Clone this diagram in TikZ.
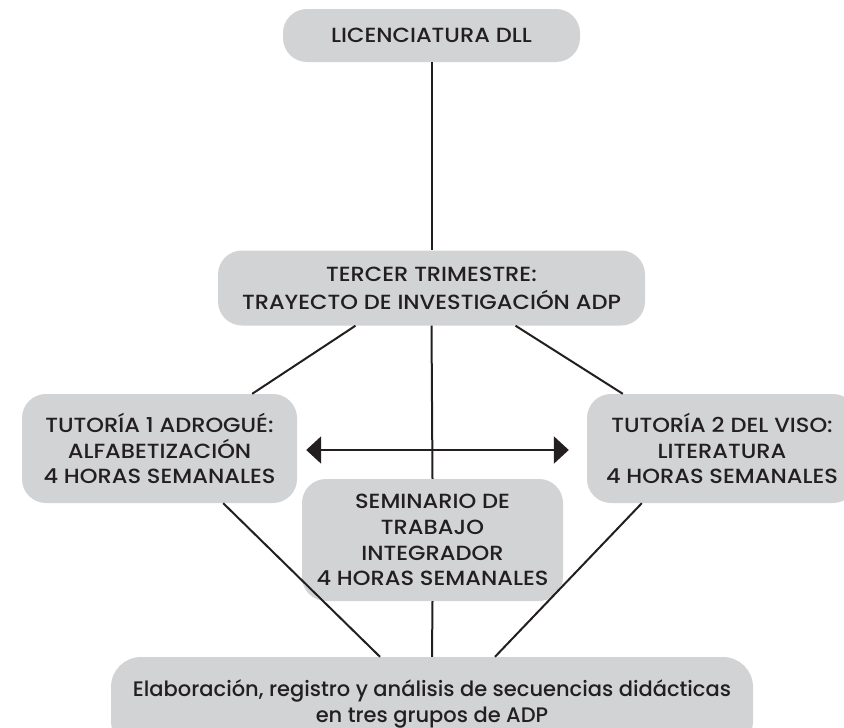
\documentclass[tikz,border=0pt]{standalone}
\usepackage{fontspec}
\setmainfont{Poppins}[UprightFont={* Medium}]
\newfontfamily\capsfont{Poppins}[UprightFont={* Medium},FakeStretch=1.1]
\usetikzlibrary{arrows.meta,calc}
\definecolor{boxgray}{HTML}{D2D3D5}
\definecolor{ink}{HTML}{231F20}
\begin{document}
\begin{tikzpicture}[x=1pt,y=-1pt,
  box/.style={fill=boxgray, text=ink, align=center, inner sep=0pt,
    rounded corners=24pt, font=\capsfont\fontsize{20.5}{25.7}\selectfont},
  lowbox/.style={box, font=\fontsize{21}{25.5}\selectfont},
  conn/.style={draw=ink, line width=2pt}]
\useasboundingbox (0,0) rectangle (844,728);
\node[box, minimum width=297pt, minimum height=53pt] (top) at (431.5,35.5) {LICENCIATURA DLL};
\node[box, font=\capsfont\fontsize{20.5}{28}\selectfont, minimum width=427pt, minimum height=75pt] (ter) at (431.5,288) {TERCER TRIMESTRE:\\TRAYECTO DE INVESTIGACIÓN ADP};
\node[box, minimum width=275pt, minimum height=109pt] (t1) at (159.5,448.5) {TUTORÍA 1 ADROGUÉ:\\ALFABETIZACIÓN\\4 HORAS SEMANALES};
\node[box, minimum width=270pt, minimum height=109pt] (t2) at (722,448.5) {TUTORÍA 2 DEL VISO:\\LITERATURA\\4 HORAS SEMANALES};
\node[box, minimum width=261pt, minimum height=122pt] (sem) at (432.5,540) {SEMINARIO DE\\TRABAJO\\INTEGRADOR\\4 HORAS SEMANALES};
\node[lowbox, rounded corners=30pt, minimum width=642pt, minimum height=94pt] (bot) at (432,704) {Elaboración, registro y análisis de secuencias didácticas\\en tres grupos de ADP};
% connectors
\draw[conn] (top.south) -- (ter.north);
\draw[conn] (ter.south) -- (sem.north);
\draw[conn] (sem.south) -- (bot.north);
\draw[conn] ([xshift=-76pt]ter.south) -- ([xshift=-45pt]t1.north east);
\draw[conn] ([xshift=84pt]ter.south) -- ([xshift=36pt]t2.north west);
\draw[conn] ([xshift=-74pt]t1.south east) -- ([xshift=-52pt]bot.north);
\draw[conn] ([xshift=55pt]t2.south west) -- ([xshift=63pt]bot.north);
\draw[conn, line width=2.5pt, {Triangle[length=15pt,width=27pt]}-{Triangle[length=15pt,width=27pt]}]
  ([xshift=9pt,yshift=-1.5pt]t1.east) -- ([xshift=-18pt,yshift=-1.5pt]t2.west);
\end{tikzpicture}
\end{document}
